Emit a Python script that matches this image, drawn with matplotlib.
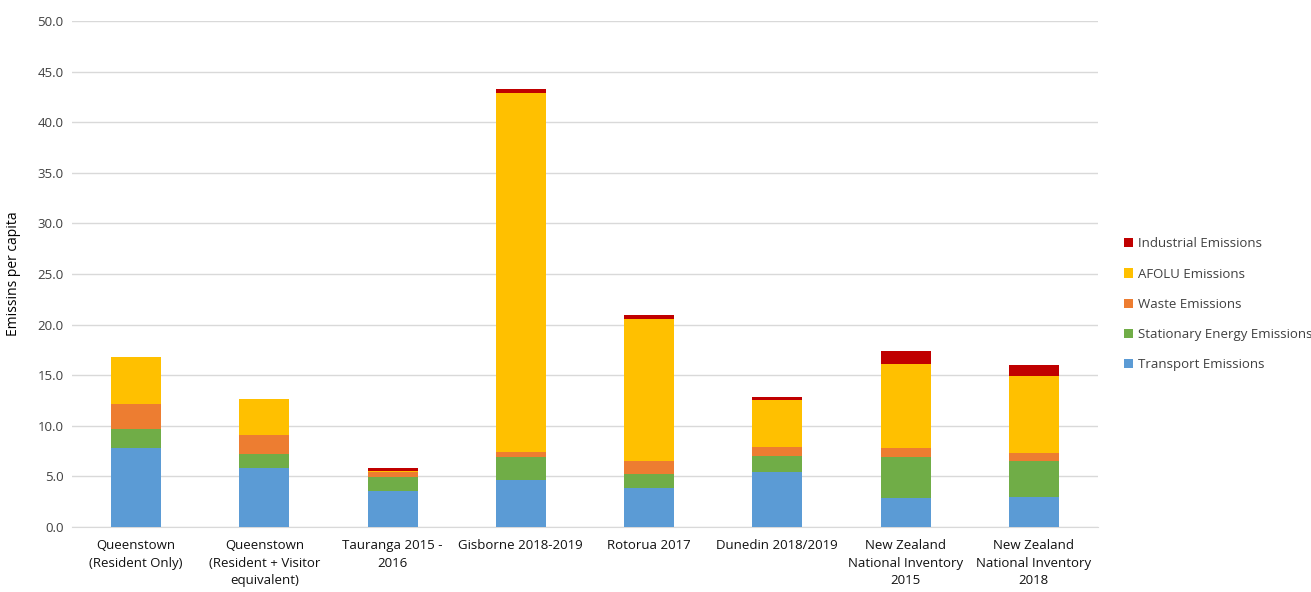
import numpy as np
from matplotlib import pyplot as plt

# per-capita emissions by source
categories = ["Queenstown\n(Resident Only)", "Queenstown\n(Resident + Visitor\nequivalent)",
              "Tauranga 2015 -\n2016", "Gisborne 2018-2019", "Rotorua 2017", "Dunedin 2018/2019",
              "New Zealand\nNational Inventory\n2015", "New Zealand\nNational Inventory\n2018"]
transport = [7.8, 5.8, 3.55, 4.65, 3.9, 5.45, 2.85, 2.95]
stationary = [1.9, 1.45, 1.35, 2.25, 1.3, 1.6, 4.1, 3.55]
waste = [2.45, 1.85, 0.5, 0.5, 1.3, 0.9, 0.9, 0.8]
afolu = [4.6, 3.5, 0.1, 35.5, 14.1, 4.6, 8.3, 7.65]
industrial = [0.0, 0.0, 0.3, 0.35, 0.3, 0.25, 1.2, 1.05]

series = [("Transport Emissions", transport, "#5B9BD5"),
          ("Stationary Energy Emissions", stationary, "#70AD47"),
          ("Waste Emissions", waste, "#ED7D31"),
          ("AFOLU Emissions", afolu, "#FFC000"),
          ("Industrial Emissions", industrial, "#C00000")]

plt.rcParams['font.family'] = ['Open Sans', 'DejaVu Sans']

fig = plt.figure(figsize=(13.11, 5.92), dpi=100)
ax = fig.add_axes([0.0549, 0.1098, 0.7826, 0.8547])

x = np.arange(len(categories))
bottom = np.zeros(len(categories))
handles = []
for name, vals, col in series:
    b = ax.bar(x, vals, 0.39, bottom=bottom, color=col, label=name, zorder=3)
    handles.append(b)
    bottom += np.array(vals)

ax.set_xlim(-0.5, len(categories) - 0.5)
ax.set_ylim(0, 50)
ax.set_yticks(np.arange(0, 50.1, 5))
ax.set_yticklabels(["%.1f" % v for v in np.arange(0, 50.1, 5)], fontsize=9.5, color="#404040")
ax.set_xticks(x)
ax.set_xticklabels(categories, fontsize=9.5, color="#111111", linespacing=1.45, va="top")
ax.tick_params(length=0, pad=9)
ax.tick_params(axis='y', pad=6)
ax.yaxis.grid(True, color="#D9D9D9", linewidth=1, zorder=0)
for s in ["top", "right", "left"]:
    ax.spines[s].set_visible(False)
ax.spines["bottom"].set_color("#D9D9D9")
ax.set_ylabel("Emissins per capita", fontsize=10, color="#000000", labelpad=12)

fig.legend(handles[::-1], [h.get_label() for h in handles[::-1]], loc="center left",
           bbox_to_anchor=(0.848, 0.486), frameon=False, fontsize=9.5, handlelength=0.7,
           handleheight=0.7, handletextpad=0.4, labelspacing=1.3, labelcolor="#404040")

fig.savefig("out.png", dpi=100)
